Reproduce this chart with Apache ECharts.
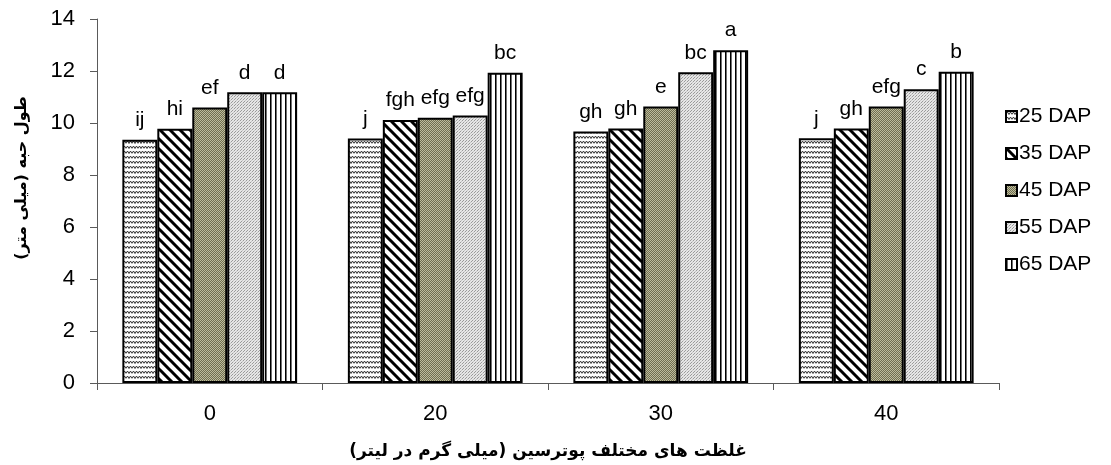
<!DOCTYPE html>
<html>
<head>
<meta charset="utf-8">
<script src="https://cdn.jsdelivr.net/npm/echarts@6/dist/echarts.min.js"></script>
<style>
  html, body { margin: 0; padding: 0; background: #ffffff; }
  #chart { width: 1111px; height: 465px; }
</style>
</head>
<body>
<div id="chart"></div>
<script>
// Putrescine concentrations (mg/L) on the category axis
const categories = ['0', '20', '30', '40'];
const seriesNames = ['25 DAP', '35 DAP', '45 DAP', '55 DAP', '65 DAP'];

// Grain length (mm) per sampling date, one value per concentration
const dap25 = [9.36, 9.40, 9.67, 9.41];
const dap35 = [9.78, 10.12, 9.79, 9.79];
const dap45 = [10.60, 10.20, 10.63, 10.63];
const dap55 = [11.18, 10.29, 11.95, 11.30];
const dap65 = [11.18, 11.93, 12.80, 11.97];

// Mean-comparison letters shown above each bar
const letters25 = ['ij', 'j', 'gh', 'j'];
const letters35 = ['hi', 'fgh', 'gh', 'gh'];
const letters45 = ['ef', 'efg', 'e', 'efg'];
const letters55 = ['d', 'efg', 'bc', 'c'];
const letters65 = ['d', 'bc', 'a', 'b'];

const yTicks = { min: 0, max: 14, interval: 2 };

// ---- fill patterns for the bars ----
function tile(w, h, draw) {
  const c = document.createElement('canvas');
  c.width = w; c.height = h;
  const ctx = c.getContext('2d');
  draw(ctx, w, h);
  return { image: c, repeat: 'repeat' };
}

// wavy horizontal lines
const wavePattern = tile(6, 5, (ctx, w, h) => {
  ctx.fillStyle = '#ffffff'; ctx.fillRect(0, 0, w, h);
  ctx.strokeStyle = '#333333'; ctx.lineWidth = 1;
  ctx.beginPath();
  ctx.moveTo(0, 3.5); ctx.lineTo(1.5, 1); ctx.lineTo(3, 3.5); ctx.lineTo(4.5, 1); ctx.lineTo(6, 3.5);
  ctx.stroke();
});

// thick diagonal stripes running top-left to bottom-right
const diagPattern = tile(10, 10, (ctx, w, h) => {
  ctx.fillStyle = '#ffffff'; ctx.fillRect(0, 0, w, h);
  ctx.strokeStyle = '#000000'; ctx.lineWidth = 3;
  ctx.beginPath();
  ctx.moveTo(-2, -2); ctx.lineTo(12, 12);
  ctx.moveTo(-12, -2); ctx.lineTo(2, 12);
  ctx.moveTo(8, -2); ctx.lineTo(22, 12);
  ctx.stroke();
});

// olive fine checker
const olivePattern = tile(2, 2, (ctx) => {
  ctx.fillStyle = '#6f6e50'; ctx.fillRect(0, 0, 2, 2);
  ctx.fillStyle = '#bdbb9c'; ctx.fillRect(0, 0, 1, 1); ctx.fillRect(1, 1, 1, 1);
});

// light grey dots
const dotPattern = tile(3, 3, (ctx) => {
  ctx.fillStyle = '#e6e6e6'; ctx.fillRect(0, 0, 3, 3);
  ctx.fillStyle = '#9a9a9a'; ctx.fillRect(0, 0, 1, 1); ctx.fillRect(1, 2, 1, 1);
  ctx.fillStyle = '#c4c4c4'; ctx.fillRect(2, 1, 1, 1);
});

// vertical lines
const vlinePattern = tile(5, 4, (ctx, w, h) => {
  ctx.fillStyle = '#ffffff'; ctx.fillRect(0, 0, w, h);
  ctx.fillStyle = '#000000'; ctx.fillRect(0, 0, 1, h);
  ctx.fillStyle = '#707070'; ctx.fillRect(1, 0, 1, h);
});

const fills = [wavePattern, diagPattern, olivePattern, dotPattern, vlinePattern];
const values = [dap25, dap35, dap45, dap55, dap65];
const letters = [letters25, letters35, letters45, letters55, letters65];

const latin = 'Liberation Sans, Arial, sans-serif';
const persian = 'DejaVu Sans, Noto Sans, sans-serif';

const chart = echarts.init(document.getElementById('chart'), null, { renderer: 'canvas' });

chart.setOption({
  backgroundColor: '#ffffff',
  animation: false,
  grid: { left: 97, right: 112, top: 19, bottom: 82, containLabel: false },
  legend: {
    orient: 'vertical',
    left: 1000,
    top: 101,
    icon: 'rect',
    itemWidth: 11,
    itemHeight: 11,
    itemGap: 16,
    data: seriesNames,
    textStyle: { fontFamily: latin, fontSize: 21, color: '#000', padding: [0, 0, 0, -3] }
  },
  xAxis: {
    type: 'category',
    data: categories,
    axisLine: { lineStyle: { color: '#5a5a5a', width: 1 } },
    axisTick: { show: true, length: 7, lineStyle: { color: '#5a5a5a' } },
    axisLabel: { margin: 20, fontFamily: latin, fontSize: 22, color: '#000' }
  },
  yAxis: {
    type: 'value',
    min: yTicks.min,
    max: yTicks.max,
    interval: yTicks.interval,
    splitLine: { show: false },
    axisLine: { show: true, lineStyle: { color: '#5a5a5a', width: 1 } },
    axisTick: { show: true, length: 7, lineStyle: { color: '#5a5a5a' } },
    axisLabel: { margin: 22, fontFamily: latin, fontSize: 22, color: '#000' }
  },
  graphic: [
    {
      type: 'text',
      rotation: Math.PI / 2,
      x: 22, y: 178,
      style: {
        text: 'طول حبه (میلی متر)',
        font: 'bold 16px ' + persian,
        fill: '#000',
        align: 'center',
        verticalAlign: 'middle'
      }
    },
    {
      type: 'text',
      x: 548, y: 452,
      style: {
        text: 'غلظت های مختلف پوترسین (میلی گرم در لیتر)',
        font: 'bold 17px ' + persian,
        fill: '#000',
        align: 'center',
        verticalAlign: 'middle'
      }
    }
  ],
  series: seriesNames.map((name, i) => ({
    name: name,
    type: 'bar',
    data: values[i],
    barGap: '0%',
    barCategoryGap: '22.5%',
    itemStyle: { color: fills[i], borderColor: '#000', borderWidth: 2 },
    label: {
      show: true,
      position: 'top',
      distance: 9,
      fontFamily: latin,
      fontSize: 21,
      color: '#000',
      formatter: (p) => letters[i][p.dataIndex]
    }
  }))
});
</script>
</body>
</html>
